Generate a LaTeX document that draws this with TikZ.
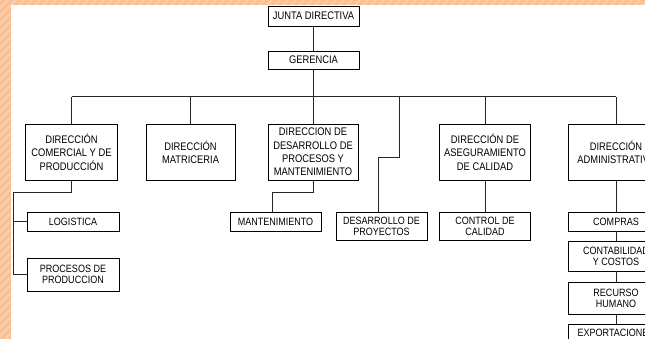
\documentclass[tikz,border=0pt]{standalone}
\usepackage{fontspec}
\setmainfont[FakeStretch=0.85]{Liberation Sans}
\usetikzlibrary{calc}
\definecolor{bgorange}{RGB}{250,190,145}
\definecolor{bgstripe}{RGB}{252,206,170}
\begin{document}
\begin{tikzpicture}[x=1pt,y=-1pt,
  box/.style={draw=black, line width=0.9pt, fill=white, inner sep=0pt, align=center,
    font=\fontsize{11}{13.3}\selectfont},
  sbox/.style={box, font=\fontsize{10.6}{11}\selectfont},
  conn/.style={draw=black!85, line width=1pt}]
\useasboundingbox (0,0) rectangle (645,339);
\clip (0,0) rectangle (645,339);
% background frame
\fill[bgorange] (0,0) rectangle (645,339);
\begin{scope}
\clip (0,0) rectangle (645,5) (0,0) rectangle (10.5,339);
\foreach \i in {-400,-392,...,700}
  \draw[bgstripe, line width=2.5pt] (\i,0) -- ++(-345,345);
\end{scope}
\fill[white] (10.5,5) rectangle (645,339);

% nodes
\node[box, minimum width=91, minimum height=20] (jd) at (313.5,16) {JUNTA DIRECTIVA};
\node[box, minimum width=91, minimum height=18] (ger) at (313.5,60) {GERENCIA};

\node[box, minimum width=92, minimum height=56] (com) at (71.5,152) {DIRECCIÓN\\COMERCIAL Y DE\\PRODUCCIÓN};
\node[box, minimum width=89, minimum height=56] (mat) at (190.5,152) {DIRECCIÓN\\MATRICERIA};
\node[box, minimum width=90, minimum height=56] (des) at (313,152) {DIRECCION DE\\DESARROLLO DE\\PROCESOS Y\\MANTENIMIENTO};
\node[box, minimum width=91, minimum height=56] (ase) at (485,152) {DIRECCIÓN DE\\ASEGURAMIENTO\\DE CALIDAD};
\node[box, minimum width=96, minimum height=56] (adm) at (616,152) {DIRECCIÓN\\ADMINISTRATIVA};

\node[sbox, minimum width=92, minimum height=19] (log) at (73,221.5) {LOGISTICA};
\node[sbox, minimum width=92, minimum height=33] (pro) at (73,274.5) {PROCESOS DE\\PRODUCCION};
\node[sbox, minimum width=91, minimum height=19] (man) at (275.5,221.5) {MANTENIMIENTO};
\node[sbox, minimum width=91, minimum height=28] (dp) at (381.5,226) {DESARROLLO DE\\PROYECTOS};
\node[sbox, minimum width=91, minimum height=28] (cc) at (485,226) {CONTROL DE\\CALIDAD};
\node[sbox, minimum width=96, minimum height=19] (comp) at (616,221.5) {COMPRAS};
\node[sbox, minimum width=96, minimum height=30] (cont) at (616,256) {CONTABILIDAD\\Y COSTOS};
\node[sbox, minimum width=96, minimum height=32] (rh) at (616,298) {RECURSO\\HUMANO};
\node[sbox, minimum width=96, minimum height=22] (exp) at (616,335) {\raisebox{5pt}{EXPORTACIONES}};

% connectors
\coordinate (barL) at (71.5,97);
\coordinate (barR) at (616,97);
\coordinate (dpj) at (399,97);
\coordinate (trunk) at (13,193);
\draw[conn] (jd.south) -- (ger.north);
\draw[conn] (ger.south) -- (ger.south |- barL);
\draw[conn] (barL) -- (barR);
\draw[conn] (com.north) -- (com.north |- barL);
\draw[conn] (mat.north) -- (mat.north |- barL);
\draw[conn] (des.north) -- (des.north |- barL);
\draw[conn] (ase.north) -- (ase.north |- barL);
\draw[conn] (adm.north) -- (adm.north |- barL);
\draw[conn] (dpj) -- (399,158) -| ([xshift=-3.5pt]dp.north);
\draw[conn] (com.south) -- (com.south |- trunk) -- (trunk) |- (pro.west);
\draw[conn] (trunk |- log.west) -- (log.west);
\draw[conn] (des.south) -- (313,193) -| ([xshift=-3.5pt]man.north);
\draw[conn] (ase.south) -- (cc.north);
\draw[conn] (adm.south) -- (comp.north);
\draw[conn] (comp.south) -- (cont.north);
\draw[conn] (cont.south) -- (rh.north);
\draw[conn] (rh.south) -- (exp.north);
\end{tikzpicture}
\end{document}
